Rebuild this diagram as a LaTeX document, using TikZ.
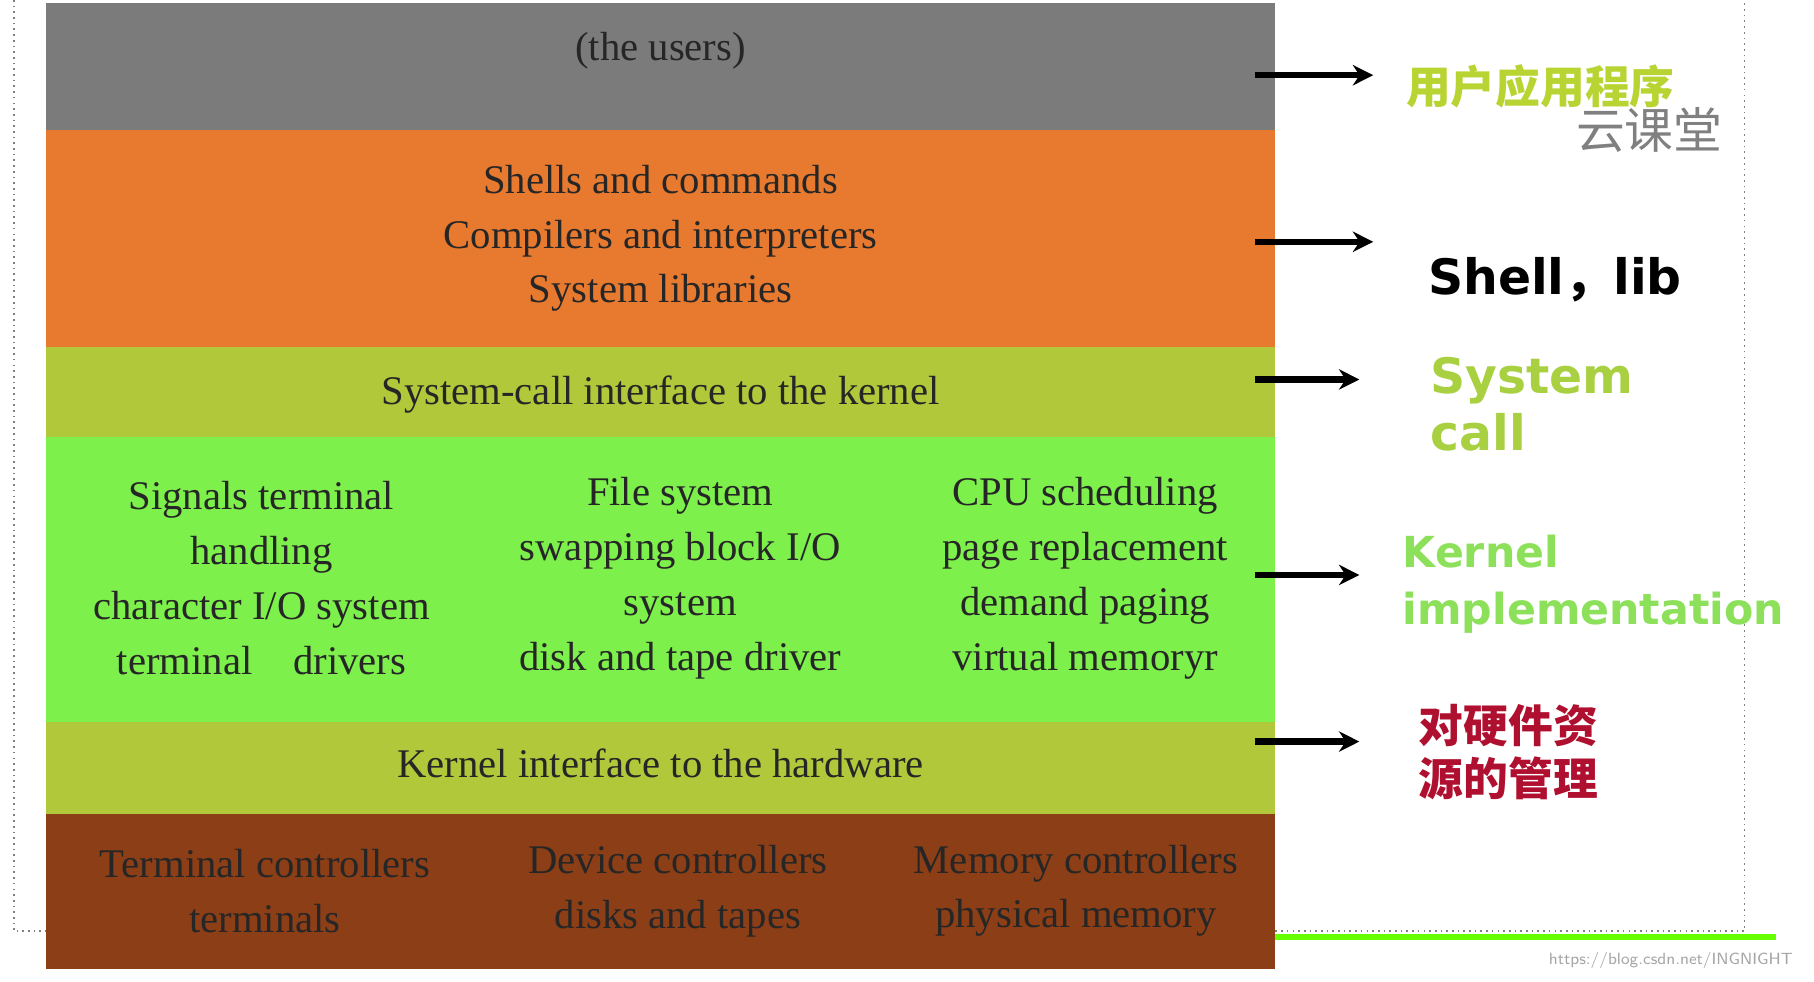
\documentclass[tikz,border=0pt]{standalone}
\usetikzlibrary{arrows.meta}
\usepackage{fontspec}
\setmainfont{Liberation Serif}
\newfontfamily\sansb{DejaVu Sans}
\newfontfamily\cjk{Noto Sans CJK SC}
\begin{document}
\begin{tikzpicture}[x=0.01cm,y=-0.01cm,
  band/.style={draw=none},
  txt/.style={font=\fontsize{10}{13.5}\selectfont, align=center, text=black!85},
  arr/.style={-{Stealth[length=5pt,width=5pt]}, line width=1.6pt},
  lab/.style={anchor=west, align=left, font=\sansb\bfseries\fontsize{12}{14}\selectfont},
  clab/.style={anchor=west, align=left, font=\cjk\bfseries\fontsize{11}{13}\selectfont}]
\useasboundingbox (0,0) rectangle (1568,848);
\fill[white] (0,0) rectangle (1568,848);
\draw[densely dotted, gray] (12,0) -- (12,805) -- (1508,805) -- (1508,0);
\draw[line width=1.5pt, green!60!yellow] (1102,810) -- (1535,810);
\fill[band,fill=gray!85!black!90] (40,3) rectangle (1102,112);
\fill[band,fill={rgb,255:red,232;green,122;blue,48}] (40,112) rectangle (1102,300);
\fill[band,fill={rgb,255:red,176;green,200;blue,58}] (40,300) rectangle (1102,378);
\fill[band,fill={rgb,255:red,126;green,240;blue,76}] (40,378) rectangle (1102,624);
\fill[band,fill={rgb,255:red,176;green,200;blue,58}] (40,624) rectangle (1102,704);
\fill[band,fill={rgb,255:red,140;green,62;blue,22}] (40,704) rectangle (1102,838);
\node[txt] (u) at (571,44) {(the users)};
\node[txt] (sh) at (571,206) {Shells and commands\\Compilers and interpreters\\System libraries};
\node[txt] (sc) at (571,341) {System-call interface to the kernel};
\node[txt] (k1) at (226,500) {Signals terminal\\handling\\character I/O system\\terminal\quad drivers};
\node[txt] (k2) at (588,500) {File system\\swapping block I/O\\system\\disk and tape driver};
\node[txt] (k3) at (938,500) {CPU scheduling\\page replacement\\demand paging\\virtual memoryr};
\node[txt] (kh) at (571,660) {Kernel interface to the hardware};
\node[txt] (h1) at (229,770) {Terminal controllers\\terminals};
\node[txt] (h2) at (586,770) {Device controllers\\disks and tapes};
\node[txt] (h3) at (930,770) {Memory controllers\\physical memory};
\coordinate (a1) at (1085,65); \coordinate (b1) at (1187,65);
\coordinate (a2) at (1085,209); \coordinate (b2) at (1187,209);
\coordinate (a3) at (1085,328); \coordinate (b3) at (1175,328);
\coordinate (a4) at (1085,497); \coordinate (b4) at (1175,497);
\coordinate (a5) at (1085,641); \coordinate (b5) at (1175,641);
\foreach \i in {1,...,5} \draw[arr] (a\i) -- (b\i);
\node[clab, text={rgb,255:red,184;green,212;blue,50}] (l1) at (1203,75) {用户应用程序};
\node[anchor=west, font=\cjk\fontsize{12}{14}\selectfont, text=gray] (w) at (1350,112) {云课堂};
\node[lab, text=black] (l2) at (1222,242) {Shell{\cjk，}lib};
\node[lab, text={rgb,255:red,168;green,208;blue,64}] (l3) at (1224,349) {System\\call};
\node[lab, text={rgb,255:red,140;green,224;blue,90}, font=\sansb\bfseries\fontsize{10.5}{14}\selectfont] (l4) at (1200,505) {Kernel\\implementation};
\node[clab, text={rgb,255:red,176;green,16;blue,48}] (l5) at (1214,650) {对硬件资\\源的管理};
\node[anchor=east, font=\sffamily\fontsize{4}{5}\selectfont, text=gray!70] (c) at (1562,830) {https://blog.csdn.net/INGNIGHT};
\end{tikzpicture}
\end{document}
